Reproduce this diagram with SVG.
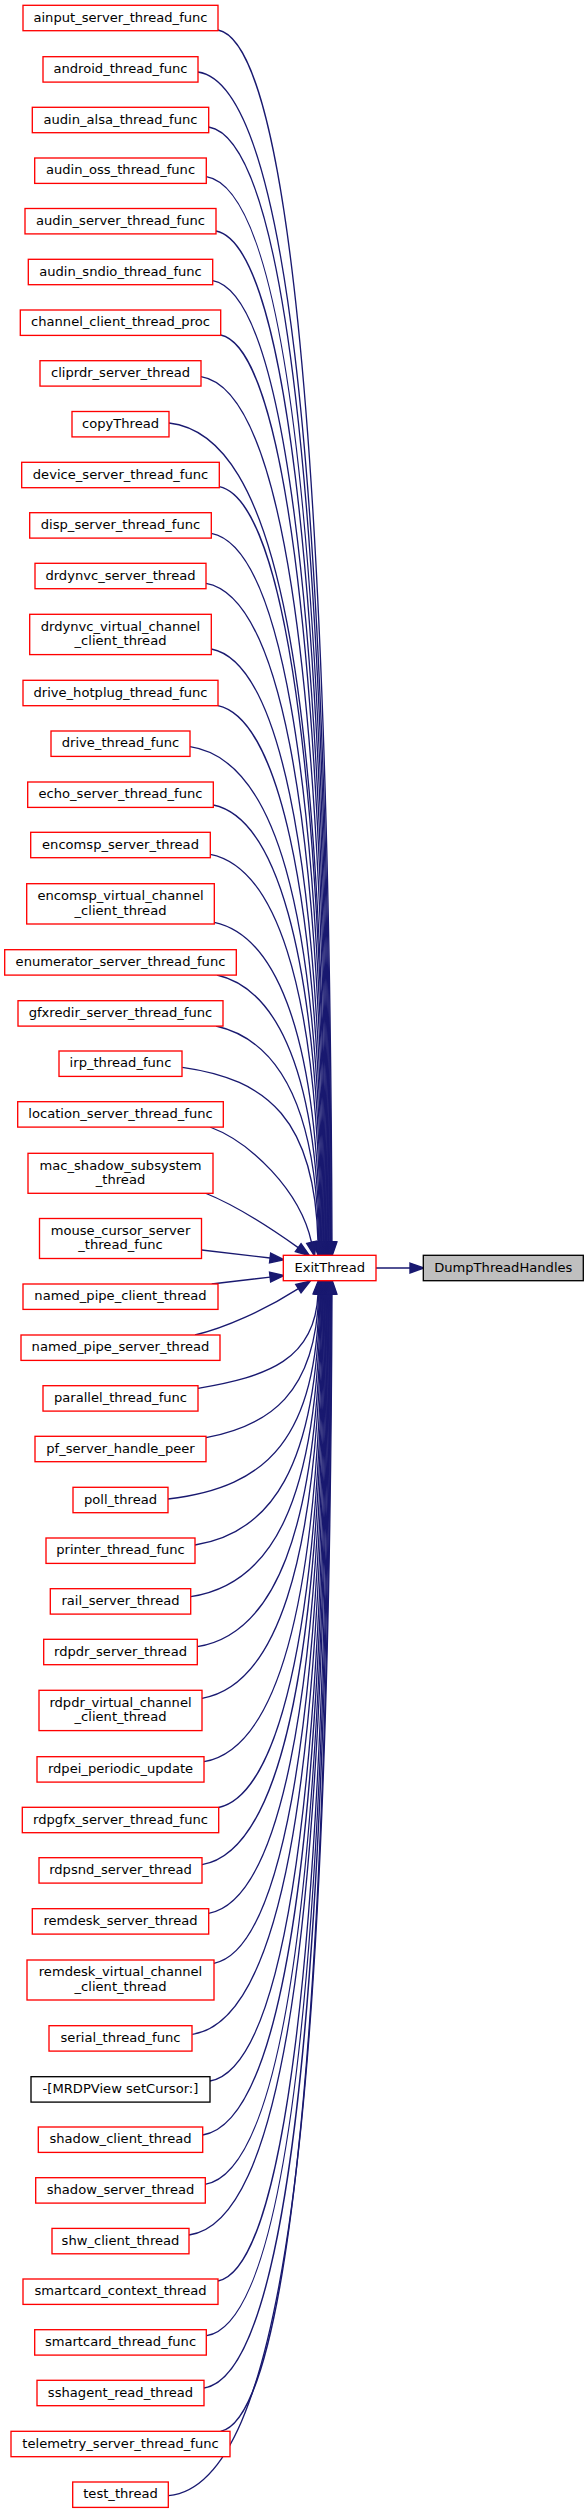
<svg xmlns="http://www.w3.org/2000/svg" width="588" height="2513" viewBox="0 0 588 2513">
<style>
.n rect{fill:#fff;stroke:#ff0000;stroke-width:1.33}
.k rect{stroke:#000}
.g rect{fill:#bfbfbf;stroke:#000}
text{font-family:"DejaVu Sans","Liberation Sans",sans-serif;font-size:13.1px;text-anchor:middle;fill:#000}
#edges path{fill:none;stroke:#191970;stroke-width:1.33;marker-end:url(#ah)}
</style>
<defs>
<marker id="ah" markerUnits="userSpaceOnUse" markerWidth="14" markerHeight="10" viewBox="0 0 13.33 9.33" refX="0" refY="4.67" orient="auto" overflow="visible">
<path d="M0,0L13.33,4.67L0,9.33z" fill="#191970" stroke="#191970" stroke-width="1.33"/>
</marker>
</defs>
<rect width="588" height="2513" fill="#fff"/>
<g id="edges">
<path d="M218,30 C282,42 329,393.6 332,1242"/>
<path d="M198,72 C281.3,84 328.3,423 331.3,1242"/>
<path d="M208.7,127 C280.6,139 327.6,461.5 330.6,1242"/>
<path d="M206.3,176.7 C279.9,188.7 326.9,496.3 329.9,1242"/>
<path d="M216,231 C279.2,243 326.2,534.3 329.2,1242"/>
<path d="M212.7,280.7 C278.5,292.7 325.5,569.1 328.5,1242"/>
<path d="M220.7,335 C277.8,347 324.8,607.1 327.8,1242"/>
<path d="M201,376.7 C277.1,388.7 324.1,636.3 327.1,1242"/>
<path d="M169,423 C276.4,435 323.4,668.7 326.4,1242"/>
<path d="M219.3,486.7 C275.7,498.7 322.7,713.3 325.7,1242"/>
<path d="M211.3,533.3 C275,545.3 322,745.9 325,1242"/>
<path d="M206,583.3 C274.3,595.3 321.3,780.9 324.3,1242"/>
<path d="M211.3,649 C273.6,661 320.6,826.9 323.6,1242"/>
<path d="M218,705.7 C272.9,717.7 319.9,866.6 322.9,1242"/>
<path d="M190,746.7 C272.2,758.7 319.2,895.3 322.2,1242"/>
<path d="M213.3,805 C271.5,817 318.5,936.1 321.5,1242"/>
<path d="M210.3,854.3 C270.8,866.3 317.8,970.6 320.8,1242"/>
<path d="M214.3,922.3 C270.1,934.3 317.1,1018.2 320.1,1242"/>
<path d="M217,975 C269.4,987 316.4,1055.1 319.4,1242"/>
<path d="M216,1026 C268.7,1038 315.7,1090.8 318.7,1242"/>
<path d="M182.3,1067.3 C268,1079.3 315,1119.7 318,1242"/>
<path d="M210,1127 C250,1142 300,1190 311.5,1242.3"/>
<path d="M205,1193 C235,1205 270,1227.5 298.2,1247.6"/>
<path d="M201.7,1250 C225,1252.7 248,1255.4 270.1,1258"/>
<path d="M211.7,1284 C231,1281.7 250,1279.4 270.1,1277.1"/>
<path d="M195,1335 C225,1328 265,1310 298.4,1288.6"/>
<path d="M198,1388.3 C268,1376.3 315,1360 318,1294"/>
<path d="M206,1437.7 C268.7,1425.7 315.7,1394.6 318.7,1294"/>
<path d="M168,1499 C269.3,1487 316.3,1437.5 319.3,1294"/>
<path d="M195,1545 C270,1533 317,1469.7 320,1294"/>
<path d="M190.7,1596.7 C270.7,1584.7 317.7,1505.9 320.7,1294"/>
<path d="M197.3,1646.7 C271.4,1634.7 318.4,1540.9 321.4,1294"/>
<path d="M202,1698.3 C272,1686.3 319,1577 322,1294"/>
<path d="M204,1761.7 C272.7,1749.7 319.7,1621.4 322.7,1294"/>
<path d="M218.7,1807.5 C273.4,1795.5 320.4,1653.5 323.4,1294"/>
<path d="M202,1864.7 C274,1852.7 321,1693.5 324,1294"/>
<path d="M208.7,1913.3 C274.7,1901.3 321.7,1727.5 324.7,1294"/>
<path d="M214,1963.3 C275.4,1951.3 322.4,1762.5 325.4,1294"/>
<path d="M192.3,2034.3 C276,2022.3 323,1812.2 326,1294"/>
<path d="M210,2081 C276.7,2069 323.7,1844.9 326.7,1294"/>
<path d="M202.7,2135 C277.4,2123 324.4,1882.7 327.4,1294"/>
<path d="M205,2184.3 C278,2172.3 325,1917.2 328,1294"/>
<path d="M189,2235 C278.7,2223 325.7,1952.7 328.7,1294"/>
<path d="M218,2281 C279.4,2269 326.4,1984.9 329.4,1294"/>
<path d="M206.7,2335.7 C280.1,2323.7 327.1,2023.2 330.1,1294"/>
<path d="M204,2388 C280.7,2376 327.7,2059.8 330.7,1294"/>
<path d="M220.7,2431.3 C281.4,2419.3 328.4,2090.1 331.4,1294"/>
<path d="M168.7,2495.7 C282,2483.7 329,2135.2 332,1294"/>
<path d="M376,1268 L410,1268"/>
</g>
<g id="ainput_server_thread_func" class="n"><rect x="23" y="5.3" width="195" height="25.4"/><text x="120.5" y="21.6">ainput_server_thread_func</text></g>
<g id="android_thread_func" class="n"><rect x="43" y="56.7" width="155" height="25.4"/><text x="120.5" y="73">android_thread_func</text></g>
<g id="audin_alsa_thread_func" class="n"><rect x="32.3" y="107.3" width="176.4" height="25.4"/><text x="120.5" y="123.6">audin_alsa_thread_func</text></g>
<g id="audin_oss_thread_func" class="n"><rect x="34.7" y="158" width="171.6" height="25.4"/><text x="120.5" y="174.3">audin_oss_thread_func</text></g>
<g id="audin_server_thread_func" class="n"><rect x="25" y="208.5" width="191" height="25.4"/><text x="120.5" y="224.8">audin_server_thread_func</text></g>
<g id="audin_sndio_thread_func" class="n"><rect x="28.3" y="259.3" width="184.4" height="25.4"/><text x="120.5" y="275.6">audin_sndio_thread_func</text></g>
<g id="channel_client_thread_proc" class="n"><rect x="20.3" y="310" width="200.4" height="25.4"/><text x="120.5" y="326.3">channel_client_thread_proc</text></g>
<g id="cliprdr_server_thread" class="n"><rect x="40" y="360.7" width="161" height="25.4"/><text x="120.5" y="377">cliprdr_server_thread</text></g>
<g id="copyThread" class="n"><rect x="72" y="411.5" width="97" height="25.4"/><text x="120.5" y="427.8">copyThread</text></g>
<g id="device_server_thread_func" class="n"><rect x="21.7" y="462.3" width="197.6" height="25.4"/><text x="120.5" y="478.6">device_server_thread_func</text></g>
<g id="disp_server_thread_func" class="n"><rect x="29.7" y="512.7" width="181.6" height="25.4"/><text x="120.5" y="529">disp_server_thread_func</text></g>
<g id="drdynvc_server_thread" class="n"><rect x="35" y="563.3" width="171" height="25.4"/><text x="120.5" y="579.6">drdynvc_server_thread</text></g>
<g id="drdynvc_virtual_channel_client_thread" class="n"><rect x="29.7" y="614.3" width="181.6" height="40.3"/><text x="120.5" y="630.5">drdynvc_virtual_channel</text><text x="120.5" y="645.2">_client_thread</text></g>
<g id="drive_hotplug_thread_func" class="n"><rect x="23" y="680.3" width="195" height="25.4"/><text x="120.5" y="696.6">drive_hotplug_thread_func</text></g>
<g id="drive_thread_func" class="n"><rect x="51" y="731" width="139" height="25.4"/><text x="120.5" y="747.3">drive_thread_func</text></g>
<g id="echo_server_thread_func" class="n"><rect x="27.7" y="782" width="185.6" height="25.4"/><text x="120.5" y="798.3">echo_server_thread_func</text></g>
<g id="encomsp_server_thread" class="n"><rect x="30.7" y="832.3" width="179.6" height="25.4"/><text x="120.5" y="848.6">encomsp_server_thread</text></g>
<g id="encomsp_virtual_channel_client_thread" class="n"><rect x="26.7" y="883.7" width="187.6" height="40.3"/><text x="120.5" y="899.9">encomsp_virtual_channel</text><text x="120.5" y="914.6">_client_thread</text></g>
<g id="enumerator_server_thread_func" class="n"><rect x="4.7" y="949.7" width="231.6" height="25.4"/><text x="120.5" y="966">enumerator_server_thread_func</text></g>
<g id="gfxredir_server_thread_func" class="n"><rect x="18" y="1000.7" width="205" height="25.4"/><text x="120.5" y="1017">gfxredir_server_thread_func</text></g>
<g id="irp_thread_func" class="n"><rect x="59" y="1051" width="123" height="25.4"/><text x="120.5" y="1067.3">irp_thread_func</text></g>
<g id="location_server_thread_func" class="n"><rect x="17.7" y="1101.7" width="205.6" height="25.4"/><text x="120.5" y="1118">location_server_thread_func</text></g>
<g id="mac_shadow_subsystem_thread" class="n"><rect x="28" y="1153.3" width="185" height="40"/><text x="120.5" y="1169.5">mac_shadow_subsystem</text><text x="120.5" y="1184.2">_thread</text></g>
<g id="mouse_cursor_server_thread_func" class="n"><rect x="39.5" y="1218.5" width="162" height="40"/><text x="120.5" y="1234.7">mouse_cursor_server</text><text x="120.5" y="1249.4">_thread_func</text></g>
<g id="named_pipe_client_thread" class="n"><rect x="23" y="1284" width="195" height="25.4"/><text x="120.5" y="1300.3">named_pipe_client_thread</text></g>
<g id="named_pipe_server_thread" class="n"><rect x="21" y="1335" width="199" height="25.4"/><text x="120.5" y="1351.3">named_pipe_server_thread</text></g>
<g id="parallel_thread_func" class="n"><rect x="43" y="1385.7" width="155" height="25.4"/><text x="120.5" y="1402">parallel_thread_func</text></g>
<g id="pf_server_handle_peer" class="n"><rect x="35" y="1436.3" width="171" height="25.4"/><text x="120.5" y="1452.6">pf_server_handle_peer</text></g>
<g id="poll_thread" class="n"><rect x="73" y="1487.3" width="95" height="25.4"/><text x="120.5" y="1503.6">poll_thread</text></g>
<g id="printer_thread_func" class="n"><rect x="46" y="1538" width="149" height="25.4"/><text x="120.5" y="1554.3">printer_thread_func</text></g>
<g id="rail_server_thread" class="n"><rect x="50.3" y="1588.7" width="140.4" height="25.4"/><text x="120.5" y="1605">rail_server_thread</text></g>
<g id="rdpdr_server_thread" class="n"><rect x="43.7" y="1639.3" width="153.6" height="25.4"/><text x="120.5" y="1655.6">rdpdr_server_thread</text></g>
<g id="rdpdr_virtual_channel_client_thread" class="n"><rect x="39" y="1690.3" width="163" height="40.3"/><text x="120.5" y="1706.5">rdpdr_virtual_channel</text><text x="120.5" y="1721.2">_client_thread</text></g>
<g id="rdpei_periodic_update" class="n"><rect x="37" y="1756.7" width="167" height="25.4"/><text x="120.5" y="1773">rdpei_periodic_update</text></g>
<g id="rdpgfx_server_thread_func" class="n"><rect x="22.3" y="1807.3" width="196.4" height="25.4"/><text x="120.5" y="1823.6">rdpgfx_server_thread_func</text></g>
<g id="rdpsnd_server_thread" class="n"><rect x="39" y="1857.7" width="163" height="25.4"/><text x="120.5" y="1874">rdpsnd_server_thread</text></g>
<g id="remdesk_server_thread" class="n"><rect x="32.3" y="1908.7" width="176.4" height="25.4"/><text x="120.5" y="1925">remdesk_server_thread</text></g>
<g id="remdesk_virtual_channel_client_thread" class="n"><rect x="27" y="1960" width="187" height="40"/><text x="120.5" y="1976.2">remdesk_virtual_channel</text><text x="120.5" y="1990.9">_client_thread</text></g>
<g id="serial_thread_func" class="n"><rect x="49" y="2025.7" width="143" height="25.4"/><text x="120.5" y="2042">serial_thread_func</text></g>
<g id="MRDPView_setCursor" class="n k"><rect x="31" y="2076.7" width="179" height="25.4"/><text x="120.5" y="2093">-[MRDPView setCursor:]</text></g>
<g id="shadow_client_thread" class="n"><rect x="38.3" y="2127" width="164.4" height="25.4"/><text x="120.5" y="2143.3">shadow_client_thread</text></g>
<g id="shadow_server_thread" class="n"><rect x="35.7" y="2177.7" width="169.6" height="25.4"/><text x="120.5" y="2194">shadow_server_thread</text></g>
<g id="shw_client_thread" class="n"><rect x="52" y="2228.4" width="137" height="25.4"/><text x="120.5" y="2244.7">shw_client_thread</text></g>
<g id="smartcard_context_thread" class="n"><rect x="23" y="2279" width="195" height="25.4"/><text x="120.5" y="2295.3">smartcard_context_thread</text></g>
<g id="smartcard_thread_func" class="n"><rect x="34.7" y="2329.7" width="171.6" height="25.4"/><text x="120.5" y="2346">smartcard_thread_func</text></g>
<g id="sshagent_read_thread" class="n"><rect x="37" y="2380.3" width="167" height="25.4"/><text x="120.5" y="2396.6">sshagent_read_thread</text></g>
<g id="telemetry_server_thread_func" class="n"><rect x="11" y="2431.3" width="219" height="25.4"/><text x="120.5" y="2447.6">telemetry_server_thread_func</text></g>
<g id="test_thread" class="n"><rect x="72.7" y="2482" width="95.6" height="25.4"/><text x="120.5" y="2498.3">test_thread</text></g>
<g id="ExitThread" class="n"><rect x="283.3" y="1255.3" width="92.7" height="25.4"/><text x="329.7" y="1271.6">ExitThread</text></g>
<g id="DumpThreadHandles" class="n g"><rect x="423.3" y="1255.3" width="160" height="25.4"/><text x="503.3" y="1271.6">DumpThreadHandles</text></g>
</svg>
